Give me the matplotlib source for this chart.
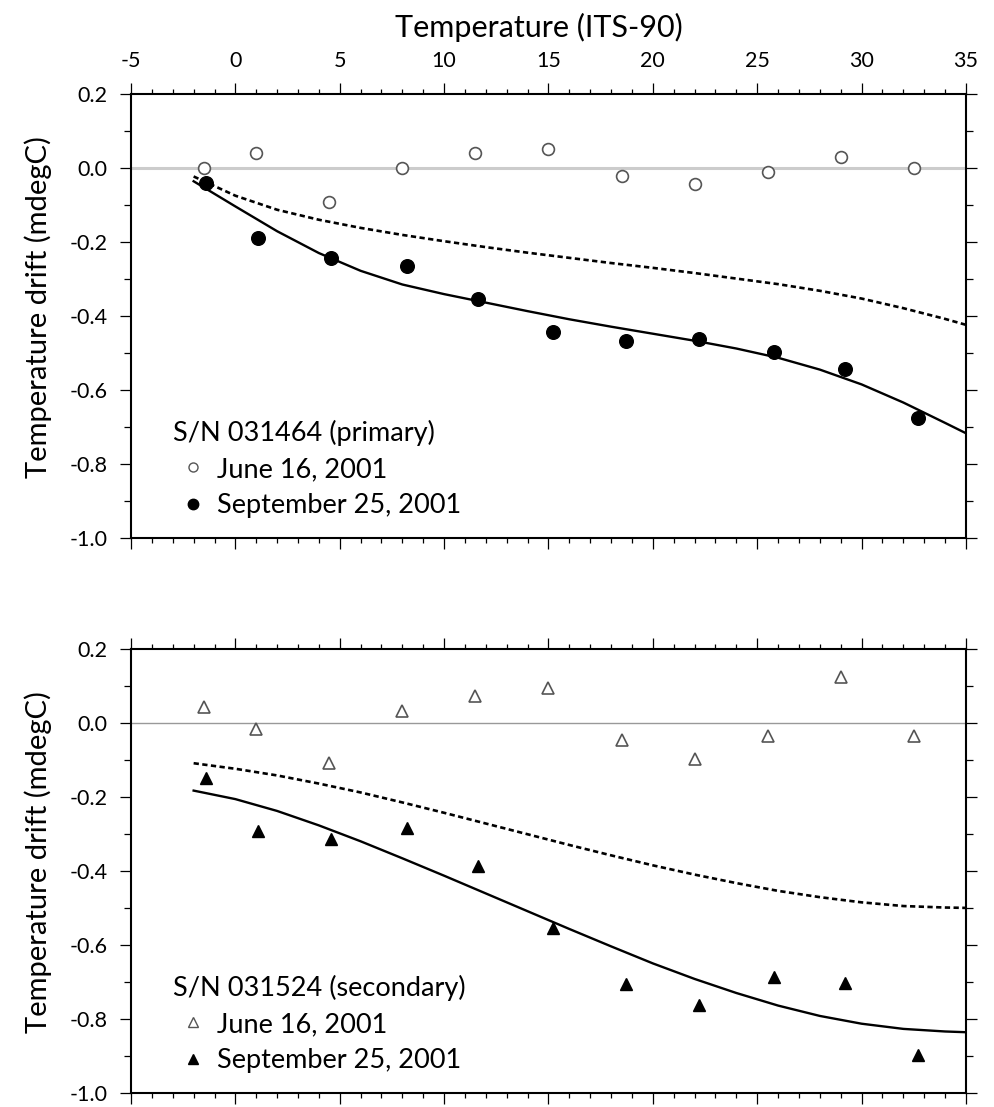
import numpy as np
import matplotlib.pyplot as plt
from matplotlib.ticker import MultipleLocator
from matplotlib.lines import Line2D

plt.rcParams['font.family'] = ['Lato', 'DejaVu Sans']
plt.rcParams['axes.unicode_minus'] = False

# measurement temperatures (ITS-90)
temp_june = [-1.5, 1.0, 4.5, 8.0, 11.5, 15.0, 18.5, 22.0, 25.5, 29.0, 32.5]
temp_sept = [-1.4, 1.1, 4.6, 8.2, 11.6, 15.2, 18.7, 22.2, 25.8, 29.2, 32.7]

# S/N 031464 (primary)
prim_june = [0.0, 0.041, -0.090, 0.0, 0.041, 0.051, -0.020, -0.042, -0.009, 0.030, 0.0]
prim_sept = [-0.039, -0.188, -0.243, -0.263, -0.353, -0.443, -0.466, -0.461, -0.496, -0.543, -0.675]

# S/N 031524 (secondary)
sec_june = [0.045, -0.016, -0.107, 0.033, 0.075, 0.094, -0.046, -0.097, -0.034, 0.124, -0.034]
sec_sept = [-0.149, -0.290, -0.314, -0.283, -0.385, -0.552, -0.704, -0.762, -0.686, -0.702, -0.897]

# fitted drift curves, every 2 degrees
fit_t = [-2, 0, 2, 4, 6, 8, 10, 12, 14, 16, 18, 20, 22, 24, 26, 28, 30, 32, 34, 35]
prim_fit = [-0.035, -0.103, -0.170, -0.229, -0.277, -0.314, -0.340, -0.363, -0.386, -0.408,
            -0.428, -0.447, -0.466, -0.487, -0.512, -0.544, -0.584, -0.633, -0.688, -0.716]
prim_dash = [-0.022, -0.074, -0.112, -0.139, -0.161, -0.180, -0.197, -0.213, -0.228, -0.242,
             -0.256, -0.269, -0.283, -0.298, -0.313, -0.331, -0.352, -0.378, -0.407, -0.423]
sec_fit = [-0.182, -0.205, -0.237, -0.276, -0.319, -0.365, -0.412, -0.460, -0.508, -0.556,
           -0.603, -0.649, -0.691, -0.729, -0.763, -0.791, -0.812, -0.826, -0.833, -0.835]
sec_dash = [-0.108, -0.123, -0.141, -0.163, -0.187, -0.214, -0.242, -0.271, -0.300, -0.329,
            -0.357, -0.384, -0.409, -0.432, -0.453, -0.470, -0.484, -0.494, -0.498, -0.499]

fig = plt.figure(figsize=(9.94, 11.07), dpi=100)
ax1 = fig.add_axes([0.1318, 0.5137, 0.8400, 0.4011])
ax2 = fig.add_axes([0.1318, 0.0124, 0.8400, 0.4011])


def style_axis(ax, top_labels):
    ax.set_xlim(-5, 35)
    ax.set_ylim(-1.0, 0.2)
    ax.xaxis.set_major_locator(MultipleLocator(5))
    ax.xaxis.set_minor_locator(MultipleLocator(1))
    ax.yaxis.set_major_locator(MultipleLocator(0.2))
    ax.yaxis.set_minor_locator(MultipleLocator(0.1))
    ax.yaxis.set_major_formatter(plt.FormatStrFormatter('%.1f'))
    for sp in ax.spines.values():
        sp.set_linewidth(1.5)
    ax.tick_params(axis='both', which='both', direction='out', width=0.9,
                   top=True, bottom=True, left=True, right=True,
                   labeltop=top_labels, labelbottom=False,
                   labelleft=True, labelright=False, labelsize=15.5, pad=9)
    ax.tick_params(axis='x', which='major', length=8)
    ax.tick_params(axis='x', which='minor', length=3.6)
    ax.tick_params(axis='y', which='major', length=8)
    ax.tick_params(axis='y', which='minor', length=4.8)
    ax.set_ylabel('Temperature drift (mdegC)', fontsize=21)
    ax.yaxis.set_label_coords(-0.095, 0.52)


style_axis(ax1, True)
style_axis(ax2, False)
ax1.xaxis.set_label_position('top')
ax1.set_xlabel('Temperature (ITS-90)', fontsize=22)
ax1.xaxis.set_label_coords(0.488, 1.128)

# zero lines
ax1.axhline(0, color='#cccccc', lw=2.2, zorder=1)
ax2.axhline(0, color='#999999', lw=1.0, zorder=1)

dash_style = (0, (2.0, 1.3))

# primary sensor
ax1.plot(fit_t, prim_dash, color='black', lw=1.9, ls=dash_style, zorder=2)
ax1.plot(fit_t, prim_fit, color='black', lw=1.7, zorder=2)
ax1.plot(temp_june, prim_june, ls='none', marker='o', ms=8.5, mfc='white',
         mec='#555555', mew=1.2, zorder=3)
ax1.plot(temp_sept, prim_sept, ls='none', marker='o', ms=9.8, mfc='black',
         mec='black', zorder=3)

# secondary sensor
ax2.plot(fit_t, sec_dash, color='black', lw=1.9, ls=dash_style, zorder=2)
ax2.plot(fit_t, sec_fit, color='black', lw=1.7, zorder=2)
ax2.plot(temp_june, sec_june, ls='none', marker='^', ms=8.8, mfc='white',
         mec='#555555', mew=1.2, zorder=3)
ax2.plot(temp_sept, sec_sept, ls='none', marker='^', ms=8.8, mfc='black',
         mec='black', zorder=3)


def add_key(ax, title, marker):
    handles = [
        Line2D([], [], ls='none', marker=marker, ms=6.5, mfc='white', mec='#555555', mew=1.0),
        Line2D([], [], ls='none', marker=marker, ms=7.5, mfc='black', mec='black'),
    ]
    leg = ax.legend(handles, ['June 16, 2001', 'September 25, 2001'],
                    title=title, loc='lower left', bbox_to_anchor=(0.05, 0.045),
                    frameon=False, fontsize=19.5, title_fontsize=19.5,
                    handlelength=1.5, handletextpad=0.15, labelspacing=0.42,
                    borderpad=0, borderaxespad=0, alignment='left')
    return leg


add_key(ax1, 'S/N 031464 (primary)', 'o')
add_key(ax2, 'S/N 031524 (secondary)', '^')

fig.savefig('out.png', dpi=100)
